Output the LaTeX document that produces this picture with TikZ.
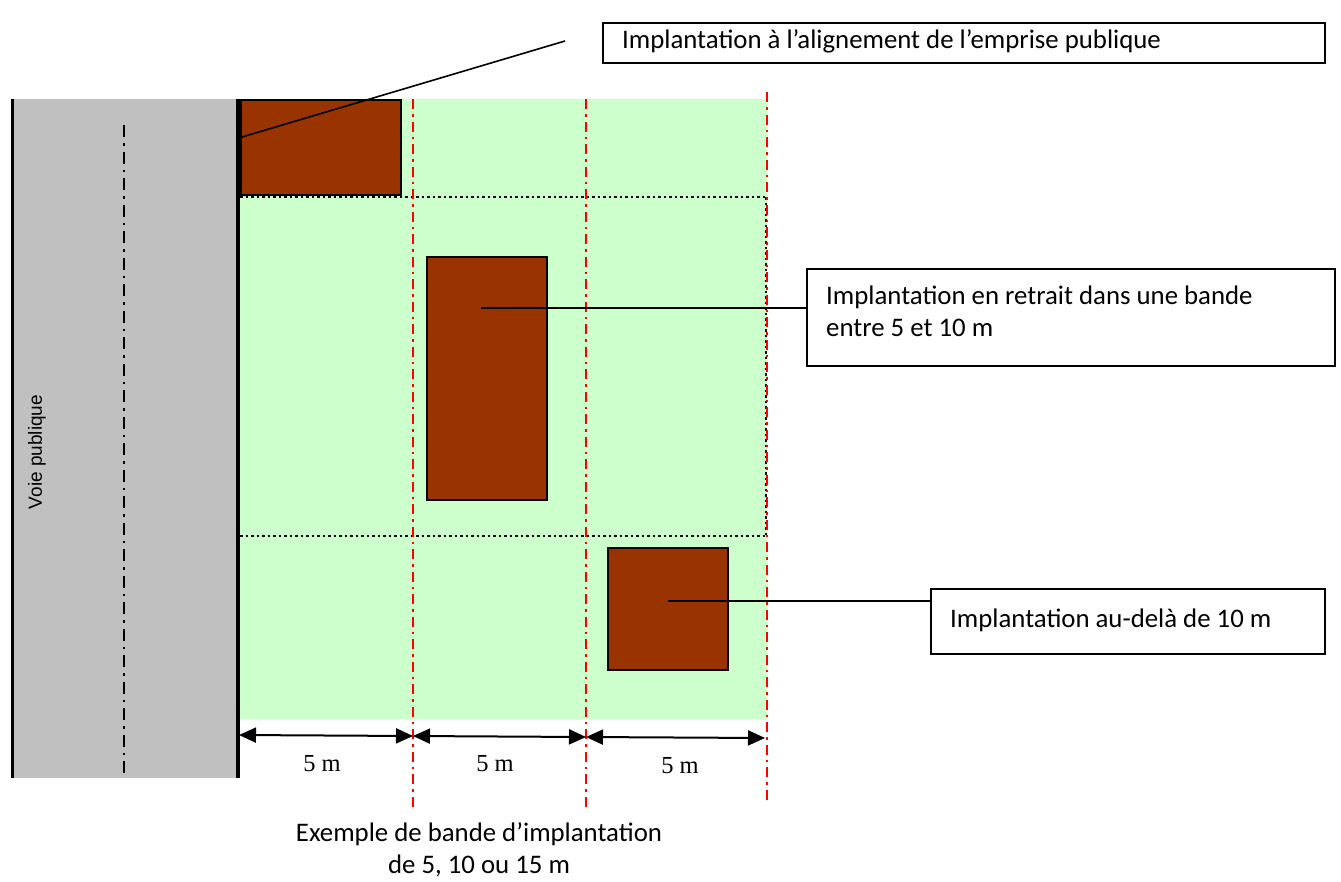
\documentclass[tikz,border=0pt]{standalone}
\usepackage{fontspec}
\setmainfont{Carlito}
\newfontfamily\serifnum{Liberation Serif}
\newfontfamily\arialf{Liberation Sans}
\usetikzlibrary{arrows.meta}
\definecolor{road}{HTML}{C0C0C0}
\definecolor{lawn}{HTML}{CCFFCC}
\definecolor{bati}{HTML}{993300}
\tikzset{
  building/.style={draw=black, line width=2pt, fill=bati},
  callout/.style={draw=black, line width=1.5pt, fill=white},
  leader/.style={line width=1.6pt},
  redaxis/.style={red, line width=2pt, dash pattern=on 10pt off 5pt on 2.5pt off 5pt},
  dotline/.style={line width=2.5pt, dash pattern=on 2.5pt off 3pt},
  dim/.style={line width=2pt, {Triangle[length=17pt,width=15pt]}-{Triangle[length=17pt,width=15pt]}},
  lbl/.style={font=\fontsize{26.8}{32}\selectfont, text=black},
}
\begin{document}
\begin{tikzpicture}[x=1pt,y=-1pt]
\useasboundingbox (0,0) rectangle (1341,881);
% road
\fill[road] (12,99) rectangle (238,778);
\draw[line width=3pt] (12,99) -- (12,778);
\draw[line width=2pt, dash pattern=on 12pt off 6pt on 2.5pt off 6pt] (124,125) -- (124,778);
\node[rotate=90, font=\arialf\fontsize{19}{22}\selectfont] (voie) at (37,452) {Voie publique};
% lawn
\fill[lawn] (238,99) rectangle (767,719);
\draw[line width=3.5pt] (238,99) -- (238,778);
% dotted lines
\draw[dotline] (240,197) -- (767,197);
\draw[dotline] (240,536) -- (767,536);
\draw[dotline] (766,197) -- (766,536);
% red axes
\draw[redaxis] (413,99) -- (413,808);
\draw[redaxis] (586,99) -- (586,808);
\draw[redaxis] (767,92) -- (767,800);
% buildings
\node[building, minimum width=160pt, minimum height=95pt, inner sep=0pt, anchor=north west] (b1) at (240,99) {};
\node[building, minimum width=120pt, minimum height=243pt, inner sep=0pt, anchor=north west] (b2) at (426,256) {};
\node[building, minimum width=120pt, minimum height=122pt, inner sep=0pt, anchor=north west] (b3) at (607,547) {};
% callouts
\node[callout, minimum width=722pt, minimum height=40pt, inner sep=0pt, anchor=north west] (c1) at (602,22) {};
\node[lbl, anchor=west, inner sep=0pt] (t1) at (622,41) {Implantation à l’alignement de l’emprise publique};
\node[callout, minimum width=528pt, minimum height=97pt, inner sep=0pt, anchor=north west] (c2) at (806,268) {};
\node[lbl, anchor=north west, align=left, inner sep=0pt] (t2) at (826,286) {Implantation en retrait dans une bande\\entre 5 et 10 m};
\node[callout, minimum width=394pt, minimum height=65pt, inner sep=0pt, anchor=north west] (c3) at (930,588) {};
\node[lbl, anchor=west, inner sep=0pt] (t3) at (950,620) {Implantation au-delà de 10 m};
% leaders
\coordinate (p1) at (242,137);
\coordinate (q1) at (565,41);
\draw[leader] (p1) -- (q1);
\coordinate (p2) at (481,308);
\draw[leader] (p2) -- (p2 -| c2.west);
\coordinate (p3) at (668,601);
\draw[leader] (p3) -- (p3 -| c3.west);
% dimensions
\coordinate (d0) at (239,735);
\coordinate (d1) at (413,736);
\coordinate (d2) at (586,737);
\coordinate (d3) at (765,738);
\draw[dim] (d0) -- (d1);
\draw[dim] (d1) -- (d2);
\draw[dim] (d2) -- (d3);
\node[font=\serifnum\fontsize{24.5}{28}\selectfont] (m1) at (322,764) {5 m};
\node[font=\serifnum\fontsize{24.5}{28}\selectfont] (m2) at (495,764) {5 m};
\node[font=\serifnum\fontsize{24.5}{28}\selectfont] (m3) at (680,766) {5 m};
\node[lbl, align=center] (cap) at (479,850) {Exemple de bande d’implantation\\de 5, 10 ou 15 m};
\end{tikzpicture}
\end{document}
